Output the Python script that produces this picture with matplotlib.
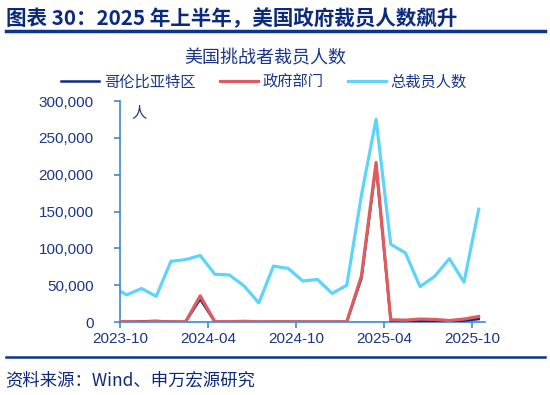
import numpy as np
import matplotlib
matplotlib.use("Agg")
from matplotlib import pyplot as plt

plt.rcParams['font.family'] = ['Noto Sans CJK SC', 'DejaVu Sans']

# monthly data, 2023-09 .. 2025-10
months = ['2023-09', '2023-10', '2023-11', '2023-12', '2024-01', '2024-02', '2024-03',
          '2024-04', '2024-05', '2024-06', '2024-07', '2024-08', '2024-09', '2024-10',
          '2024-11', '2024-12', '2025-01', '2025-02', '2025-03', '2025-04', '2025-05',
          '2025-06', '2025-07', '2025-08', '2025-09', '2025-10']
dc = [300, 200, 900, 1500, 300, 200, 31000, 200, 300, 400, 200, 300, 300, 200,
      200, 200, 300, 59000, 213000, 1500, 1200, 1500, 1000, 800, 1800, 4000]
gov = [500, 400, 300, 600, 300, 300, 35500, 500, 400, 1000, 300, 500, 400, 300,
       300, 300, 400, 62500, 216500, 3000, 2500, 4000, 3500, 2000, 4000, 7500]
total = [47457, 36836, 45510, 34817, 82307, 84638, 90309, 64789, 63816, 48786, 25885,
         75891, 72821, 55597, 57727, 38792, 49795, 172017, 275240, 105441, 93816,
         47999, 62075, 85979, 54064, 153074]
tick_labels = ['2023-10', '2024-04', '2024-10', '2025-04', '2025-10']
y_ticks = [0, 50000, 100000, 150000, 200000, 250000, 300000]

navy = '#0c2a8c'
text_col = '#1a3688'
spine_col = '#3a8ad0'

x = np.arange(len(months))
tick_pos = [months.index(t) - 0.47 for t in tick_labels]

fig = plt.figure(figsize=(5.5, 3.95), dpi=100)
ax = fig.add_axes([0.2182, 0.1848, 0.6636, 0.5595])

ax.plot(x, total, color='#5ed3fb', lw=2.3, label='总裁员人数', zorder=2)
ax.plot(x, dc, color=navy, lw=1.8, label='哥伦比亚特区', zorder=3)
ax.plot(x, gov, color='#e05c5c', lw=2.3, label='政府部门', zorder=4)

ax.set_xlim(tick_pos[0], tick_pos[0] + 24.9)
ax.set_ylim(0, 300000)
ax.set_yticks(y_ticks)
ax.set_yticklabels(['{:,}'.format(v) for v in y_ticks], family='Liberation Sans',
                   fontsize=11, color=text_col)
ax.set_xticks(tick_pos)
ax.set_xticklabels(tick_labels, family='Liberation Sans', fontsize=11, color=text_col)
ax.tick_params(axis='both', colors=spine_col, length=4, width=1.2, labelcolor=text_col)
ax.tick_params(axis='x', pad=3)
ax.tick_params(axis='y', pad=15)

for s in ['top', 'right']:
    ax.spines[s].set_visible(False)
for s in ['left', 'bottom']:
    ax.spines[s].set_color(spine_col)
    ax.spines[s].set_linewidth(1.2)

ax.text(0.03, 0.985, '人', transform=ax.transAxes, fontsize=11, color=text_col,
        va='top', ha='left')

# legend in order of the reference
handles, labels = ax.get_legend_handles_labels()
order = [1, 2, 0]
fig.legend([handles[i] for i in order], [labels[i] for i in order],
           loc='center', bbox_to_anchor=(0.48, 0.792), ncol=3, frameon=False,
           fontsize=11, handlelength=2.5, columnspacing=1.6, handletextpad=0.3,
           labelcolor=text_col)

fig.text(0.482, 0.853, '美国挑战者裁员人数', ha='center', va='center', fontsize=13,
         color=text_col)

fig.text(0.01, 0.953, '图表 30：2025 年上半年，美国政府裁员人数飙升', ha='left',
         va='center', fontsize=14.8, fontweight='bold', color='#0c2a7c')
fig.add_artist(plt.Line2D([0.01, 0.99], [0.921, 0.921], color='#0c3490', lw=2.5))
fig.add_artist(plt.Line2D([0.01, 0.99], [0.097, 0.097], color='#0c3490', lw=1.8))
fig.text(0.01, 0.037, '资料来源：Wind、申万宏源研究', ha='left', va='center',
         fontsize=12.5, color='#0c2a7c')

fig.savefig('out.png', dpi=100)
